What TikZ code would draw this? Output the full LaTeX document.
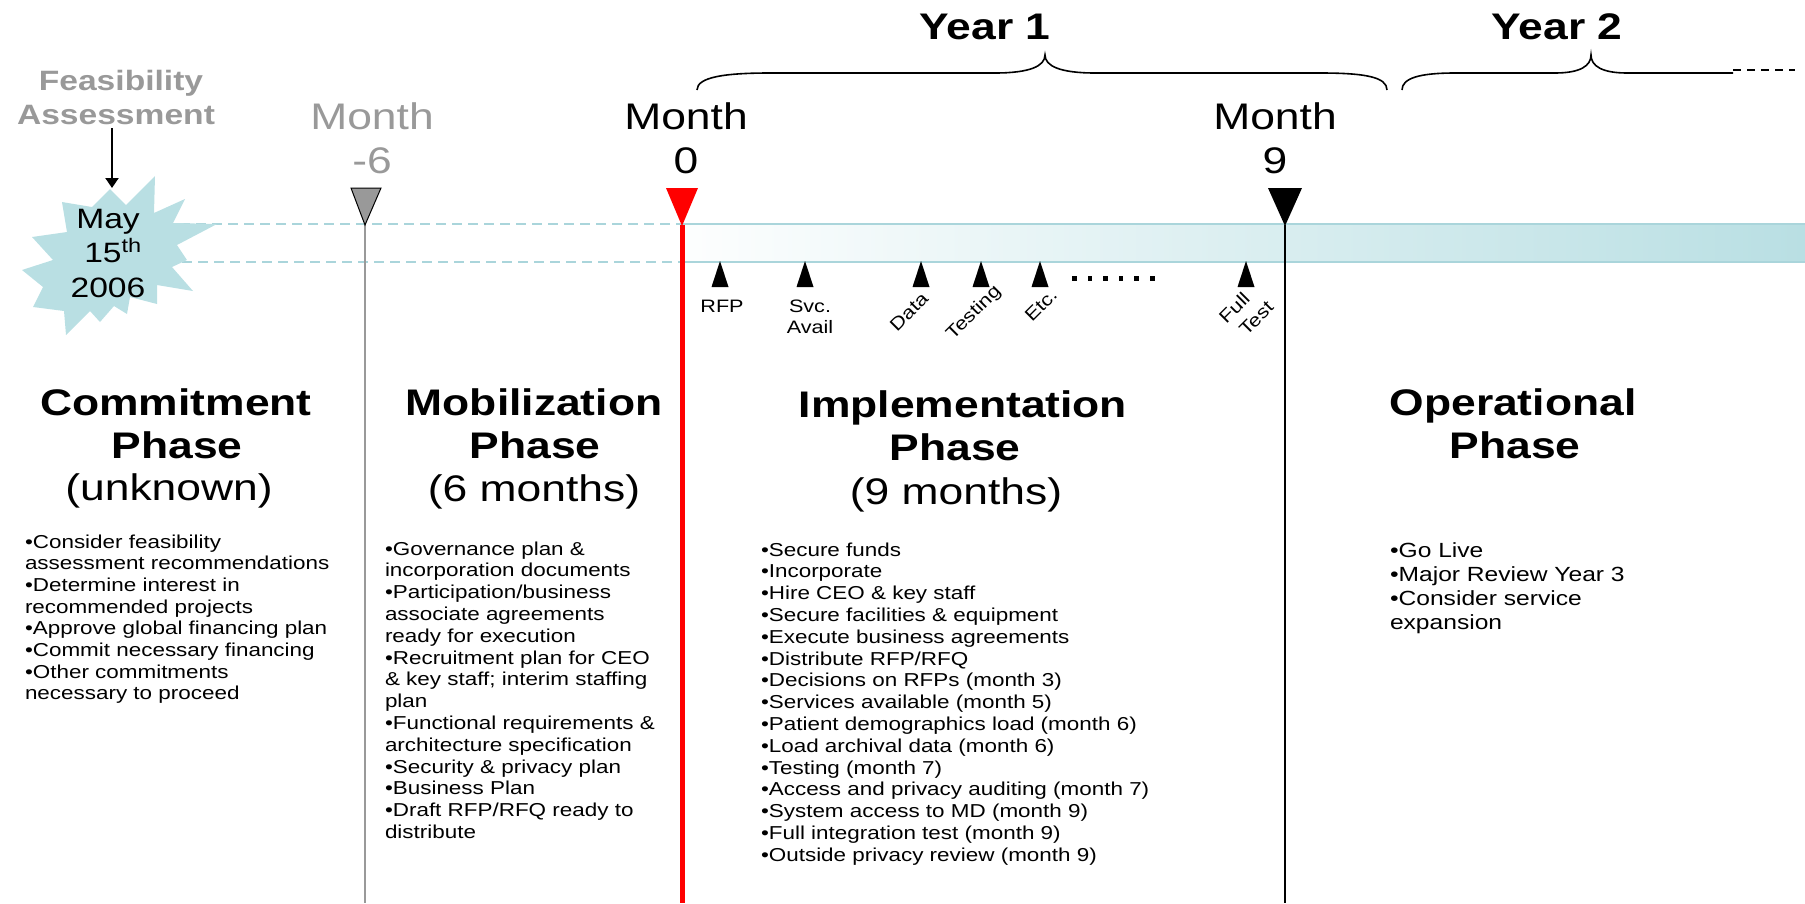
\documentclass[tikz,border=0pt]{standalone}
\usepackage{fontspec}
\setmainfont{Liberation Sans}[FakeStretch=1.2]
\usetikzlibrary{arrows.meta}
\definecolor{tealfill}{RGB}{185,223,227}
\definecolor{tealline}{RGB}{170,213,219}
\definecolor{grayt}{RGB}{153,153,153}
\definecolor{myred}{RGB}{255,0,0}
\newcommand{\fs}[2]{\fontsize{#1}{#2}\selectfont}
\newcommand{\plist}[3]{{\fs{#1}{#2}\begin{tabular}[t]{@{}l@{}}#3\end{tabular}}}
\tikzset{
  every node/.style={inner sep=0pt, outer sep=0pt},
  headb/.style={font=\bfseries\fs{37}{42}, anchor=base},
  headr/.style={font=\fs{37}{42}, anchor=base},
  lbl/.style={font=\fs{18}{21}},
  lst/.style={anchor=base west},
  dashedteal/.style={draw=tealline, line width=1.5pt, dash pattern=on 10pt off 6pt},
  braceline/.style={draw=black, line width=1.6pt},
}
\begin{document}
\begin{tikzpicture}[x=1pt,y=-1pt]
\useasboundingbox (0,0) rectangle (1805,903);

% dashed guide lines
\coordinate (dl1) at (180,224);
\coordinate (dl2) at (150,262);
\coordinate (r1) at (682,224);
\coordinate (r2) at (682,262);
\draw[dashedteal] (dl1) -- (r1);
\draw[dashedteal] (dl2) -- (r2);

% gradient bar
\shade[left color=white!97!tealfill, right color=tealfill] (682,224) rectangle (1805,262);
\draw[tealline, line width=1.8pt] (682,224) -- (1805,224);
\draw[tealline, line width=1.8pt] (682,262) -- (1805,262);

% starburst
\fill[tealfill] (110,189) -- (126,205) -- (155,176) -- (154,213) -- (185,199) -- (173,223)
  -- (217,224) -- (177,245) -- (187,260) -- (172,267) -- (193,291) -- (157,285)
  -- (157,304) -- (130,297) -- (127,314) -- (114,306) -- (100,322) -- (90,311)
  -- (66,335) -- (64,311) -- (33,307) -- (43,287) -- (22,270) -- (53,260)
  -- (32,237) -- (67,232) -- (62,202) -- (92,207) -- cycle;
\coordinate (bursttop) at (112,188);
\node[font=\fs{28}{32}, anchor=base] (may) at (108,228) {May};
\node[font=\fs{28}{32}, anchor=base] (day) at (113,262) {15\textsuperscript{th}};
\node[font=\fs{28}{32}, anchor=base] (yr) at (108,297) {2006};

% feasibility
\node[font=\bfseries\fs{28}{32}, text=grayt, anchor=base] (feas1) at (121,90) {Feasibility};
\node[font=\bfseries\fs{28}{32}, text=grayt, anchor=base] (feas2) at (116,124) {Assessment};
\coordinate (feasbot) at (112,128);
\draw[line width=2pt, -{Triangle[width=13pt,length=10pt]}] (feasbot) -- (bursttop);

% month markers
\node[headr, text=grayt] (m6a) at (372,129) {Month};
\node[headr, text=grayt] (m6b) at (372,173) {-6};
\node[headr] (m0a) at (686,129) {Month};
\node[headr] (m0b) at (686,173) {0};
\node[headr] (m9a) at (1275,129) {Month};
\node[headr] (m9b) at (1275,173) {9};

\coordinate (g1) at (365,225); \coordinate (g2) at (365,903);
\coordinate (rd1) at (682,225); \coordinate (rd2) at (682,903);
\coordinate (b1) at (1285,225); \coordinate (b2) at (1285,903);
\draw[grayt, line width=2pt] (g1) -- (g2);
\draw[myred, line width=5pt] (rd1) -- (rd2);
\draw[black, line width=2pt] (b1) -- (b2);
\filldraw[fill=grayt, draw=black, line width=1pt] (351,188) -- (381,188) -- (365,225) -- cycle;
\fill[myred] (666,188) -- (698,188) -- (682,226) -- cycle;
\fill[black] (1268,188) -- (1302,188) -- (1285,226) -- cycle;

% small milestone ticks
\foreach \x in {720,805,921,981,1040,1246}{
  \fill[black] (\x-8.5,287) -- (\x+8.5,287) -- (\x,261) -- cycle;
}
\foreach \i in {0,...,5}{
  \fill[black] ({1072+15.6*\i},276) rectangle ({1076.5+15.6*\i},280.5);
}
\node[lbl, anchor=base] (rfp) at (722,312) {RFP};
\node[lbl, anchor=base, align=center, font=\fs{18}{21}] (svc) at (810,333) {Svc.\\Avail};
\node[lbl, rotate=45] (data) at (909,312) {Data};
\node[lbl, rotate=45] (testing) at (974,313) {Testing};
\node[lbl, rotate=45] (etc) at (1041,305) {Etc.};
\node[lbl, rotate=45, align=left, font=\fs{18}{23}] (fulltest) at (1246,312) {Full\\\hspace*{5.5pt}Test};

% year braces
\node[headb] (y1) at (985,39) {Year 1};
\node[headb] (y2) at (1557,39) {Year 2};
\draw[braceline] (697,90) .. controls (697,77) and (725,73) .. (770,73) -- (995,73)
  .. controls (1030,73) and (1045,66) .. (1045,55)
  .. controls (1045,66) and (1060,73) .. (1095,73) -- (1320,73)
  .. controls (1365,73) and (1387,77) .. (1387,90);
\draw[braceline] (1402,90) .. controls (1402,78) and (1420,73) .. (1455,73) -- (1555,73)
  .. controls (1580,73) and (1591,66) .. (1591,55)
  .. controls (1591,66) and (1602,73) .. (1627,73) -- (1733,73);
\coordinate (dd1) at (1733,70); \coordinate (dd2) at (1795,70);
\draw[line width=1.5pt, dash pattern=on 8pt off 6pt] (dd1) -- (dd2);

% phase headings
\node[headb] (c1) at (176,415) {Commitment};
\node[headb] (c2) at (177,458) {Phase};
\node[headr] (c3) at (169,500) {(unknown)};
\node[headb] (mo1) at (534,415) {Mobilization};
\node[headb] (mo2) at (535,458) {Phase};
\node[headr] (mo3) at (534,501) {(6 months)};
\node[headb] (i1) at (963,417) {Implementation};
\node[headb] (i2) at (955,460) {Phase};
\node[headr] (i3) at (956,504) {(9 months)};
\node[headb] (o1) at (1513,415) {Operational};
\node[headb] (o2) at (1515,458) {Phase};

% lists
\node[lst] (clist) at (25,548) {\plist{18.7}{21.7}{%
•Consider feasibility\\
assessment recommendations\\
•Determine interest in\\
recommended projects\\
•Approve global financing plan\\
•Commit necessary financing\\
•Other commitments\\
necessary to proceed}};
\node[lst] (mlist) at (385,555) {\plist{18.7}{21.8}{%
•Governance plan \&\\
incorporation documents\\
•Participation/business\\
associate agreements\\
ready for execution\\
•Recruitment plan for CEO\\
\& key staff; interim staffing\\
plan\\
•Functional requirements \&\\
architecture specification\\
•Security \& privacy plan\\
•Business Plan\\
•Draft RFP/RFQ ready to\\
distribute}};
\node[lst] (ilist) at (761,556) {\plist{18.7}{21.8}{%
•Secure funds\\
•Incorporate\\
•Hire CEO \& key staff\\
•Secure facilities \& equipment\\
•Execute business agreements\\
•Distribute RFP/RFQ\\
•Decisions on RFPs (month 3)\\
•Services available (month 5)\\
•Patient demographics load (month 6)\\
•Load archival data (month 6)\\
•Testing (month 7)\\
•Access and privacy auditing (month 7)\\
•System access to MD (month 9)\\
•Full integration test (month 9)\\
•Outside privacy review (month 9)}};
\node[lst] (olist) at (1390,557) {\plist{20.5}{24.2}{%
•Go Live\\
•Major Review Year 3\\
•Consider service\\
expansion}};
\end{tikzpicture}
\end{document}
